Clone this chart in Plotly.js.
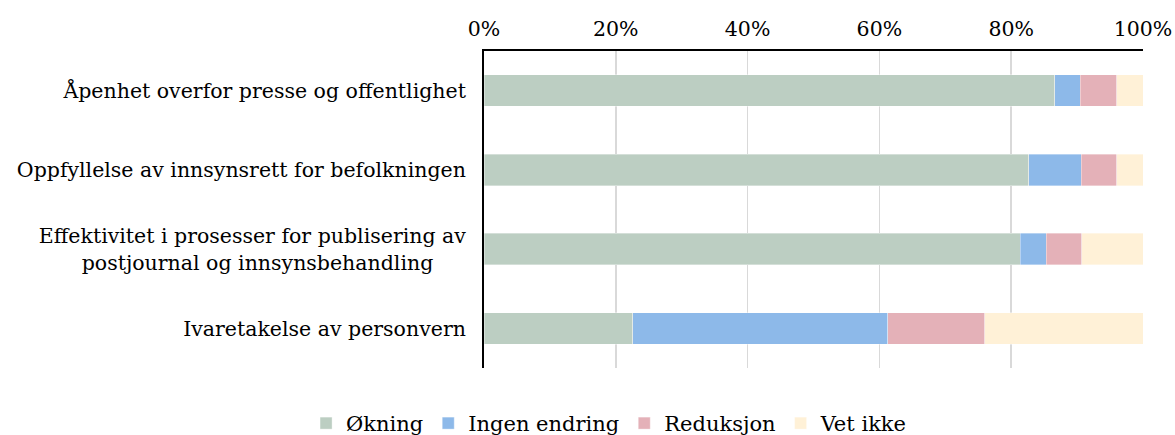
<!DOCTYPE html>
<html>
<head>
<meta charset="utf-8">
<script src="https://cdn.plot.ly/plotly-3.0.1.min.js"></script>
<style>html,body{margin:0;padding:0;background:#fff;}#chart{width:1175px;height:435px;}</style>
</head>
<body>
<div id="chart"></div>
<script>
const categories = [
  "Åpenhet overfor presse og offentlighet",
  "Oppfyllelse av innsynsrett for befolkningen",
  "Effektivitet i prosesser for publisering av<br>postjournal og innsynsbehandling\u00a0\u00a0\u00a0\u00a0\u00a0",
  "Ivaretakelse av personvern"
];
const seriesNames = ["Økning", "Ingen endring", "Reduksjon", "Vet ikke"];
const okning = [0.866, 0.827, 0.814, 0.226];
const ingenEndring = [0.039, 0.079, 0.039, 0.387];
const reduksjon = [0.055, 0.054, 0.054, 0.147];
const vetIkke = [0.040, 0.040, 0.093, 0.240];
const xTicks = [0, 0.2, 0.4, 0.6, 0.8, 1.0];

const colors = ["#bccec2", "#8db9e9", "#e4b1b8", "#fff1d7"];
const values = [okning, ingenEndring, reduksjon, vetIkke];
const fontFam = "DejaVu Serif, Liberation Serif, serif";

const data = values.map((v, i) => ({
  type: "bar",
  orientation: "h",
  name: seriesNames[i],
  y: categories,
  x: v,
  marker: {color: colors[i], line: {color: "rgba(255,255,255,0.6)", width: 0.6}},
  hoverinfo: "x+name"
}));

const layout = {
  width: 1175, height: 435,
  margin: {l: 484, r: 32, t: 51, b: 67, autoexpand: false},
  paper_bgcolor: "#fff", plot_bgcolor: "#fff",
  barmode: "stack",
  bargap: 0.6,
  font: {family: fontFam, size: 20.5, color: "#000"},
  showlegend: true,
  legend: {
    orientation: "h",
    x: -0.27, xanchor: "left",
    y: -0.175, yanchor: "middle",
    font: {family: fontFam, size: 21, color: "#000"},
    itemwidth: 30,
    traceorder: "normal"
  },
  xaxis: {
    side: "top",
    range: [0, 1],
    tickvals: xTicks,
    tickformat: ".0%",
    showgrid: true, gridcolor: "#d9d9d9", gridwidth: 1.5,
    showline: true, linecolor: "#000", linewidth: 2,
    zeroline: false,
    ticks: "",
    ticklabelstandoff: 5,
    fixedrange: true
  },
  yaxis: {
    autorange: "reversed",
    type: "category",
    showline: true, linecolor: "#000", linewidth: 2,
    showgrid: false, zeroline: false,
    ticks: "",
    ticklabelstandoff: 12,
    fixedrange: true
  }
};

Plotly.newPlot("chart", data, layout, {displayModeBar: false, staticPlot: true});
</script>
</body>
</html>
